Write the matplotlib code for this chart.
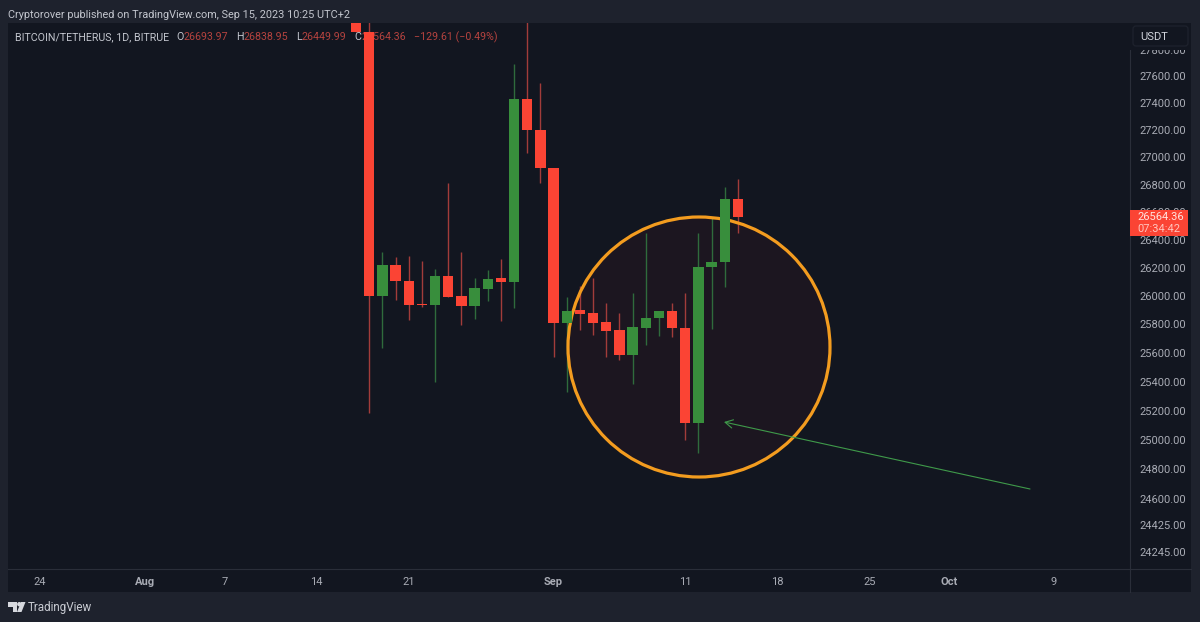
import matplotlib
matplotlib.use('Agg')
import matplotlib.pyplot as plt
import matplotlib.transforms as mtrans
from matplotlib.patches import Circle, Ellipse, FancyBboxPatch, Polygon, Rectangle
from matplotlib.ticker import FixedLocator, FixedFormatter
import numpy as np
import pandas as pd

plt.rcParams['font.family'] = ['Roboto', 'DejaVu Sans']

# daily candles, 17 aug - 15 sep
dates = pd.date_range('2023-08-17', '2023-09-15')
opens = [28300, 27936, 25999, 26219, 26107, 25942, 25935, 26143, 25997, 25928,
         26050, 26125, 26100, 27429, 27201, 26923, 25807, 25898, 25877, 25816,
         25759, 25587, 25775, 25842, 25893, 25773, 25113, 26207, 26238, 26694]
closes = [27936, 25997, 26219, 26107, 25937, 25932, 26143, 25995, 25928, 26055,
          26122, 26098, 27429, 27201, 26923, 25807, 25895, 25872, 25809, 25754,
          25587, 25780, 25846, 25893, 25771, 25113, 26207, 26243, 26697, 26564]
highs = [28600, 28400, 26312, 26277, 26284, 26248, 26191, 26813, 26312, 26127,
         26184, 26262, 27692, 28200, 27553, 26923, 25990, 26072, 26129, 25951,
         25877, 26022, 26449, 25893, 25947, 26018, 26451, 26555, 26784, 26839]
lows = [27936, 25184, 25633, 25971, 25830, 25921, 25399, 25995, 25794, 25837,
        25966, 25820, 25916, 27030, 26813, 25573, 25330, 25759, 25726, 25569,
        25550, 25381, 25655, 25719, 25712, 24999, 24909, 25764, 26060, 26449]

price_ticks = [24245, 24425, 24600, 24800, 25000, 25200, 25400, 25600, 25800, 26000,
               26200, 26400, 26600, 26800, 27000, 27200, 27400, 27600, 27800]
date_ticks = ['2023-07-24', '2023-08-01', '2023-08-07', '2023-08-14', '2023-08-21',
              '2023-09-01', '2023-09-11', '2023-09-18', '2023-09-25', '2023-10-01', '2023-10-09']
date_labels = ['24', 'Aug', '7', '14', '21', 'Sep', '11', '18', '25', 'Oct', '9']

BG = '#1e222d'
PANEL = '#121620'
LINE = '#2a2e39'
TXT = '#a9acb5'
UP = '#388e3c'
DOWN = '#fb4434'
UP_WICK = '#2f6b3c'
DOWN_WICK = '#a23c3a'

W, H = 1200, 622
fig = plt.figure(figsize=(W / 100, H / 100), dpi=100, facecolor=BG)
# chrome is placed in reference pixels, y going down
px = mtrans.Affine2D().scale(1, -1).translate(0, H)

ax = fig.add_axes([8 / W, (H - 569) / H, 1122 / W, 546 / H], facecolor=PANEL)
ax.set_yscale('log')
ax.set_ylim(24136, 28005)
d0 = pd.Timestamp('2023-08-21')
ax.set_xlim(d0 - pd.Timedelta(days=30.43), d0 + pd.Timedelta(days=54.77))

# panel behind the price axis
fig.patches.append(Rectangle((1130, 23), 61, 569, transform=px, fc=PANEL, ec='none', zorder=-1))
fig.patches.append(Rectangle((8, 569), 1122, 23, transform=px, fc=PANEL, ec='none', zorder=-1))
fig.add_artist(plt.Line2D([1130, 1130], [50, 592], transform=px, color=LINE, lw=0.8, zorder=1))
fig.add_artist(plt.Line2D([8, 1191], [569, 569], transform=px, color=LINE, lw=0.8, zorder=1))

for s in ax.spines.values():
    s.set_visible(False)

ax.yaxis.tick_right()
ax.yaxis.set_major_locator(FixedLocator(price_ticks))
ax.yaxis.set_major_formatter(FixedFormatter(['%.2f' % p for p in price_ticks]))
ax.yaxis.set_minor_locator(FixedLocator([]))
ax.tick_params(axis='y', length=0, pad=7, labelsize=8, labelcolor=TXT)

tick_pos = pd.to_datetime(date_ticks)
ax.set_xticks(tick_pos)
ax.set_xticklabels(date_labels)
ax.tick_params(axis='x', length=0, pad=6, labelsize=8, labelcolor=TXT)
for lab, t in zip(ax.get_xticklabels(), date_labels):
    if t in ('Aug', 'Sep', 'Oct'):
        lab.set_fontweight('bold')

# legend line sits under the candles
ly = 37
ax.text(15, ly, 'BITCOIN/TETHERUS, 1D, BITRUE', transform=px, color='#c3c6ce', fontsize=7.7, va='center', zorder=1)
for x, s, c in [(176, 'O', '#c3c6ce'), (184, '26693.97', '#b5433f'),
                (236, 'H', '#c3c6ce'), (243, '26838.95', '#b5433f'),
                (296, 'L', '#c3c6ce'), (302, '26449.99', '#b5433f'),
                (354, 'C', '#c3c6ce'), (361, '26564.36', '#b5433f'),
                (414, '\u2212129.61 (\u22120.49%)', '#b5433f')]:
    ax.text(x, ly, s, transform=px, color=c, fontsize=7.7, va='center', zorder=1)

# circle drawing
ax.add_patch(Ellipse((699, 347), 262, 260, transform=px, fc='#1c1620', ec='none', zorder=1.5))
ax.add_patch(Ellipse((699, 347), 262, 260, transform=px, fc='none', ec='#f39c1f', lw=2.3, zorder=2.5))

# candles
opens = np.array(opens)
closes = np.array(closes)
up = closes >= opens
ax.vlines(dates[up], np.array(lows)[up], np.array(highs)[up], color=UP_WICK, lw=1.0, zorder=2)
ax.vlines(dates[~up], np.array(lows)[~up], np.array(highs)[~up], color=DOWN_WICK, lw=1.0, zorder=2)
body_lo = np.minimum(opens, closes)
body_hi = np.maximum(opens, closes)
ax.bar(dates, body_hi - body_lo, bottom=body_lo, width=0.78,
       color=[UP if u else DOWN for u in up], lw=0, zorder=3)

# arrow
ax.annotate('', xy=(724, 422), xytext=(1030, 489), xycoords=px, textcoords=px,
            arrowprops=dict(arrowstyle='->,head_length=0.55,head_width=0.3', color='#3f9a4a', lw=0.8,
                            shrinkA=0, shrinkB=0), zorder=4)

# usdt button hides the top price label, last price tag
fig.add_artist(Rectangle((1130, 23), 61, 27, transform=px, fc=PANEL, ec='none', zorder=4))
fig.add_artist(FancyBboxPatch((1133, 26), 55, 20, boxstyle='round,pad=0,rounding_size=3', transform=px,
                              fc=PANEL, ec=BG, lw=0.9, zorder=5))
fig.text(1140, 36.5, 'USDT', transform=px, color='#d1d4dc', fontsize=8, va='center', zorder=6)
fig.add_artist(Rectangle((1130, 209.5), 58, 26, transform=px, fc=DOWN, ec='none', zorder=5))
fig.text(1137, 217, '26564.36', transform=px, color='#ffe3df', fontsize=8, va='center', zorder=6)
fig.text(1137, 229, '07:34:42', transform=px, color='#ffc4bd', fontsize=8, va='center', zorder=6)

# header and footer
fig.text(8, 15, 'Cryptorover published on TradingView.com, Sep 15, 2023 10:25 UTC+2', transform=px,
         color='#c3c6ce', fontsize=7.8, va='center')
logo1 = [(8, 602), (17, 602), (17, 612), (12.5, 612), (12.5, 606.5), (8, 606.5)]
logo2 = [(21, 602), (25.5, 602), (21.5, 612), (17, 612)]
for pts in (logo1, logo2):
    fig.add_artist(Polygon(pts, closed=True, transform=px, fc='#d6d8de', ec='none'))
fig.add_artist(Circle((19.3, 604.2), 2.2, transform=px, fc='#d6d8de', ec='none'))
fig.text(28, 607.5, 'TradingView', transform=px, color='#c9ccd3', fontsize=8.4, va='center')

fig.savefig('out.png', dpi=100, facecolor=BG)
